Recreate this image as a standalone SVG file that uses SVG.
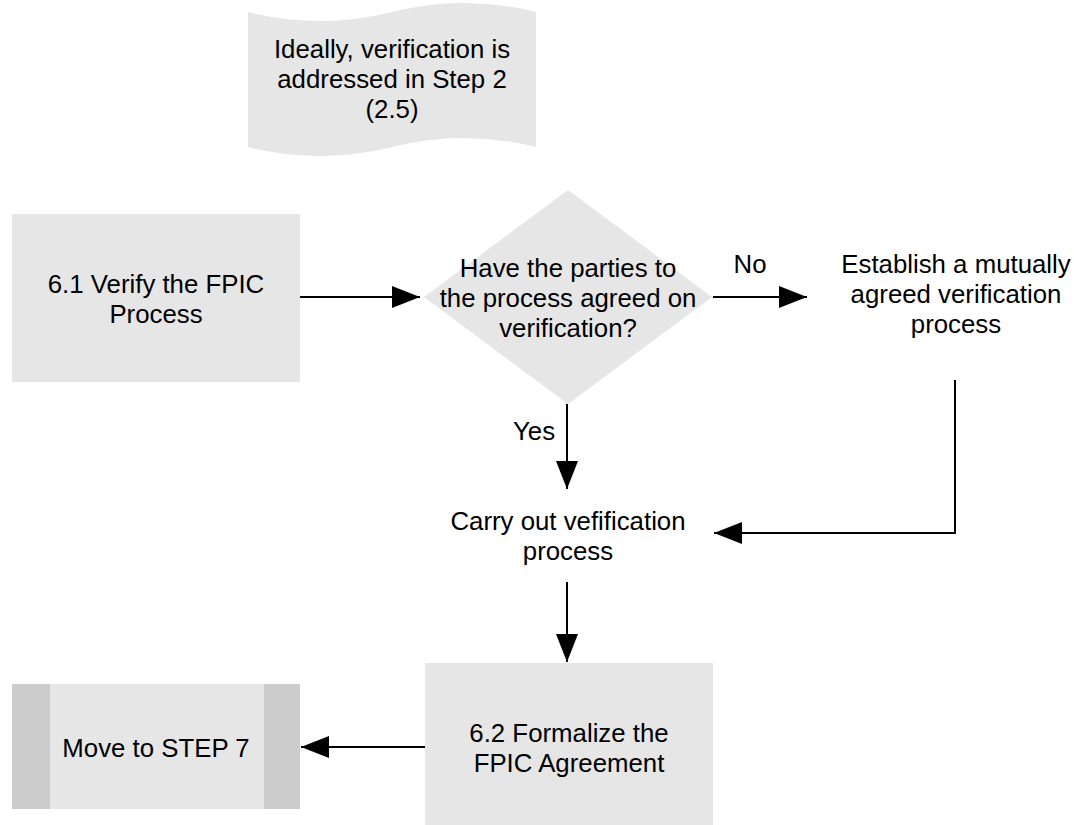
<svg xmlns="http://www.w3.org/2000/svg" width="1074" height="825" viewBox="0 0 1074 825">
  <style>
    .shape { fill: #e6e6e6; stroke: none; }
    .band { fill: #cccccc; stroke: none; }
    .label { font-family: "Liberation Sans", Arial, sans-serif; font-size: 25.8px; fill: #000000; text-anchor: middle; }
    .edge { fill: none; stroke: #000000; stroke-width: 2; }
  </style>
  <defs>
    <marker id="arrow" viewBox="0 0 28 22" refX="28" refY="11" markerWidth="28" markerHeight="22" markerUnits="userSpaceOnUse" orient="auto">
      <path d="M0,0 L28,11 L0,22 Z" fill="#000000"/>
    </marker>
  </defs>
  <rect width="1074" height="825" fill="#ffffff"/>

  <!-- note: tape shape -->
  <g id="note-step2">
    <path class="shape" d="M248,12 Q320,30 392,12 Q464,-6 536,12 L536,147 Q464,129 392,147 Q320,165 248,147 Z"/>
    <text class="label" x="392" y="58">Ideally, verification is</text>
    <text class="label" x="392" y="88">addressed in Step 2</text>
    <text class="label" x="392" y="118">(2.5)</text>
  </g>

  <!-- 6.1 process -->
  <g id="verify-fpic">
    <rect class="shape" x="12" y="214" width="288" height="168"/>
    <text class="label" x="156" y="293">6.1 Verify the FPIC</text>
    <text class="label" x="156" y="323">Process</text>
  </g>

  <!-- decision -->
  <g id="agreed-decision">
    <path class="shape" d="M568,190 L712,297 L568,404 L424,297 Z"/>
    <text class="label" x="568" y="277">Have the parties to</text>
    <text class="label" x="568" y="307">the process agreed on</text>
    <text class="label" x="568" y="337">verification?</text>
  </g>

  <!-- establish process (text only) -->
  <g id="establish-process">
    <text class="label" x="956" y="273">Establish a mutually</text>
    <text class="label" x="956" y="303">agreed verification</text>
    <text class="label" x="956" y="333">process</text>
  </g>

  <!-- carry out (text only) -->
  <g id="carry-out">
    <text class="label" x="568" y="530">Carry out vefification</text>
    <text class="label" x="568" y="560">process</text>
  </g>

  <!-- 6.2 process -->
  <g id="formalize-agreement">
    <rect class="shape" x="425" y="663" width="288" height="168"/>
    <text class="label" x="569" y="742">6.2 Formalize the</text>
    <text class="label" x="569" y="772">FPIC Agreement</text>
  </g>

  <!-- predefined process -->
  <g id="move-step7">
    <rect class="shape" x="12" y="684" width="288" height="125"/>
    <rect class="band" x="12" y="684" width="38" height="125"/>
    <rect class="band" x="264" y="684" width="36" height="125"/>
    <text class="label" x="156" y="757">Move to STEP 7</text>
  </g>

  <!-- connectors -->
  <g id="connectors">
    <path class="edge" d="M300,297 H420" marker-end="url(#arrow)"/>
    <path class="edge" d="M713,297 H807" marker-end="url(#arrow)"/>
    <path class="edge" d="M567,404 V489" marker-end="url(#arrow)"/>
    <path class="edge" d="M955,380 V533 H714" marker-end="url(#arrow)"/>
    <path class="edge" d="M567,582 V662" marker-end="url(#arrow)"/>
    <path class="edge" d="M425,747 H301" marker-end="url(#arrow)"/>
    <text class="label" x="750" y="273">No</text>
    <text class="label" x="534" y="440">Yes</text>
  </g>
</svg>
